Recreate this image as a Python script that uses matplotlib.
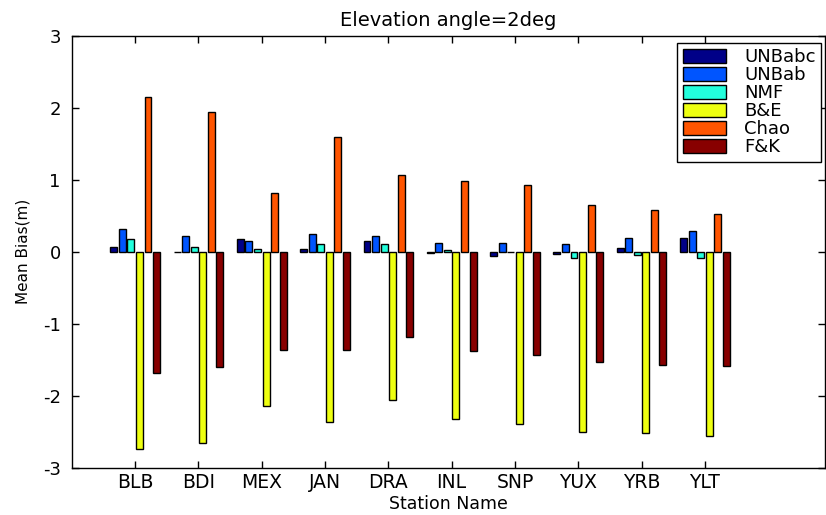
import numpy as np
import matplotlib.pyplot as plt

plt.rcParams['font.family'] = ['DejaVu Sans']
plt.rcParams['axes.unicode_minus'] = False

# Mean bias per station at 2 deg elevation (m)
stations = ['BLB', 'BDI', 'MEX', 'JAN', 'DRA', 'INL', 'SNP', 'YUX', 'YRB', 'YLT']
models = ['UNBabc', 'UNBab', 'NMF', 'B&E', 'Chao', 'F&K']
unbabc = [0.065, 0.0, 0.17, 0.03, 0.14, -0.02, -0.055, -0.035, 0.05, 0.19]
unbab = [0.31, 0.22, 0.15, 0.24, 0.22, 0.12, 0.12, 0.10, 0.19, 0.29]
nmf = [0.17, 0.065, 0.03, 0.10, 0.10, 0.02, 0.0, -0.09, -0.05, -0.09]
be = [-2.74, -2.66, -2.15, -2.37, -2.06, -2.32, -2.39, -2.50, -2.52, -2.56]
chao = [2.14, 1.94, 0.82, 1.59, 1.06, 0.98, 0.93, 0.65, 0.575, 0.52]
fk = [-1.68, -1.60, -1.36, -1.36, -1.18, -1.38, -1.43, -1.54, -1.57, -1.59]
series = [unbabc, unbab, nmf, be, chao, fk]
colors = ['#000088', '#0055ff', '#22ffdd', '#eeff11', '#ff5500', '#880000']

fig = plt.figure(figsize=(8.26, 5.15), dpi=100)
ax = fig.add_axes([0.087, 0.092, 0.912, 0.839])

x = np.arange(1, len(stations) + 1)
step = 0.135
width = 0.11
for i, (vals, name, c) in enumerate(zip(series, models, colors)):
    ax.bar(x + (i - 2.5) * step, vals, width, color=c, edgecolor='black',
           linewidth=1.0, label=name)

ax.set_xlim(0, 11.9)
ax.set_ylim(-3, 3)
ax.set_xticks(x)
ax.set_xticklabels(stations, fontsize=13.5)
ax.set_yticks(range(-3, 4))
ax.tick_params(axis='y', labelsize=13, pad=8)
ax.tick_params(axis='x', pad=4)
ax.tick_params(direction='in', length=5, top=True, right=True, width=1)
for s in ax.spines.values():
    s.set_linewidth(1.0)

ax.set_xlabel('Station Name', fontsize=12.5, labelpad=2)
ax.set_ylabel('Mean Bias(m)', fontsize=11, labelpad=9)
ax.set_title('Elevation angle=2deg', fontsize=14, pad=7)

leg = ax.legend(loc='upper right', bbox_to_anchor=(0.9947, 0.983), fontsize=13,
                fancybox=False, framealpha=1, edgecolor='black',
                handlelength=2.4, handleheight=0.85, labelspacing=0.0,
                borderpad=0.3, handletextpad=1.0, borderaxespad=0)
leg.get_frame().set_linewidth(1.0)

plt.savefig('out.png', dpi=100)
